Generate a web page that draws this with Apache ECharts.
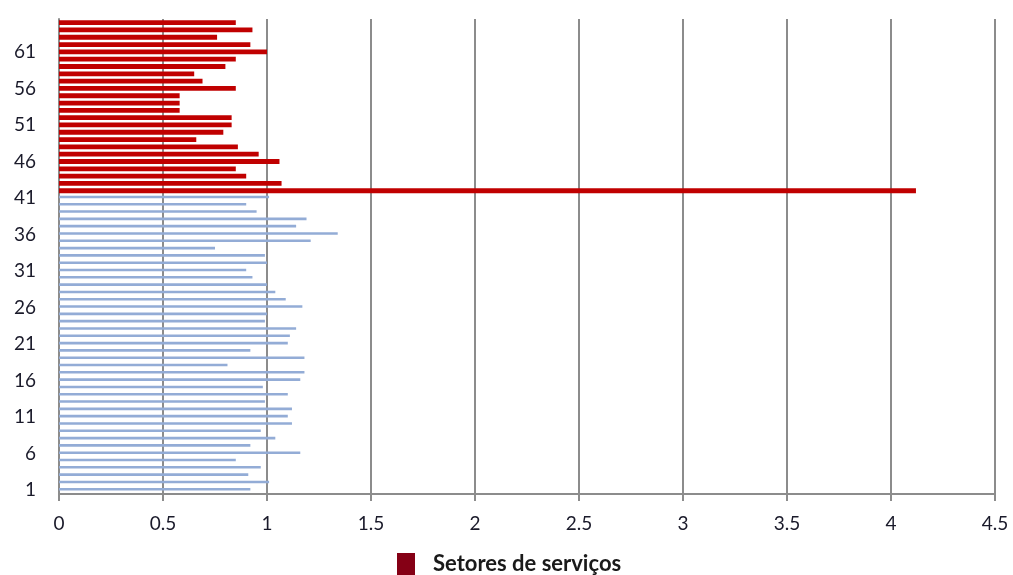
<!DOCTYPE html>
<html>
<head>
<meta charset="utf-8">
<script src="https://cdn.jsdelivr.net/npm/echarts@6/dist/echarts.min.js"></script>
<style>
  html, body { margin: 0; padding: 0; background: #ffffff; }
  #chart { width: 1013px; height: 575px; }
</style>
</head>
<body>
<div id="chart"></div>
<script>
// Sector index labels, bottom (1) to top (65)
const categories = [
  '1','2','3','4','5','6','7','8','9','10',
  '11','12','13','14','15','16','17','18','19','20',
  '21','22','23','24','25','26','27','28','29','30',
  '31','32','33','34','35','36','37','38','39','40',
  '41','42','43','44','45','46','47','48','49','50',
  '51','52','53','54','55','56','57','58','59','60',
  '61','62','63','64','65'
];

// Sectors 1–41
const otherSectors = [
  0.92, 1.01, 0.91, 0.97, 0.85, 1.16, 0.92, 1.04, 0.97, 1.12,
  1.10, 1.12, 0.99, 1.10, 0.98, 1.16, 1.18, 0.81, 1.18, 0.92,
  1.10, 1.11, 1.14, 0.99, 1.00, 1.17, 1.09, 1.04, 1.00, 0.93,
  0.90, 1.00, 0.99, 0.75, 1.21, 1.34, 1.14, 1.19, 0.95, 0.90,
  1.01
];

// Sectors 42–65 (services)
const serviceSectors = [
  4.12, 1.07, 0.90, 0.85, 1.06, 0.96, 0.86, 0.66, 0.79, 0.83,
  0.83, 0.58, 0.58, 0.58, 0.85, 0.69, 0.65, 0.80, 0.85, 1.00,
  0.92, 0.76, 0.93, 0.85
];

const xTicks = { min: 0, max: 4.5, interval: 0.5 };
const serviceName = 'Setores de serviços';

const blueData = otherSectors.concat(serviceSectors.map(() => null));
const redData = otherSectors.map(() => null).concat(serviceSectors);

const chart = echarts.init(document.getElementById('chart'), null, { renderer: 'canvas' });

const gridColor = '#8c8c8c';
const labelFont = 'Lato, "Open Sans", sans-serif';

chart.setOption({
  animation: false,
  backgroundColor: '#ffffff',
  grid: { left: 59, right: 18, top: 19, bottom: 81, containLabel: false },
  legend: {
    left: 397,
    top: 553,
    padding: 0,
    itemWidth: 18,
    itemHeight: 22,
    icon: 'rect',
    data: [{ name: serviceName, itemStyle: { color: '#850015' } }],
    textStyle: {
      fontFamily: labelFont,
      fontSize: 22,
      fontWeight: 'bold',
      color: '#1a1a1a',
      padding: [0, 0, 0, 13]
    }
  },
  xAxis: {
    type: 'value',
    min: xTicks.min,
    max: xTicks.max,
    interval: xTicks.interval,
    axisLine: { show: true, lineStyle: { color: gridColor, width: 2 } },
    axisTick: { show: true, length: 7, lineStyle: { color: gridColor, width: 2 } },
    splitLine: { show: true, lineStyle: { color: gridColor, width: 2 } },
    axisLabel: {
      margin: 20,
      fontFamily: labelFont,
      fontSize: 19,
      color: '#1a1a2a'
    }
  },
  yAxis: {
    type: 'category',
    data: categories,
    axisLine: { show: true, onZero: false, lineStyle: { color: gridColor, width: 2 } },
    axisTick: { show: false },
    splitLine: { show: false },
    axisLabel: {
      interval: 4,
      margin: 23,
      fontFamily: labelFont,
      fontSize: 19,
      color: '#1a1a2a'
    }
  },
  series: [
    {
      name: 'Demais setores',
      type: 'bar',
      data: blueData,
      barWidth: 2.6,
      barGap: '-100%',
      itemStyle: { color: '#93acd6' }
    },
    {
      name: serviceName,
      type: 'bar',
      data: redData,
      barWidth: 4.8,
      barGap: '-100%',
      itemStyle: { color: '#c00000' }
    }
  ]
});
</script>
</body>
</html>
